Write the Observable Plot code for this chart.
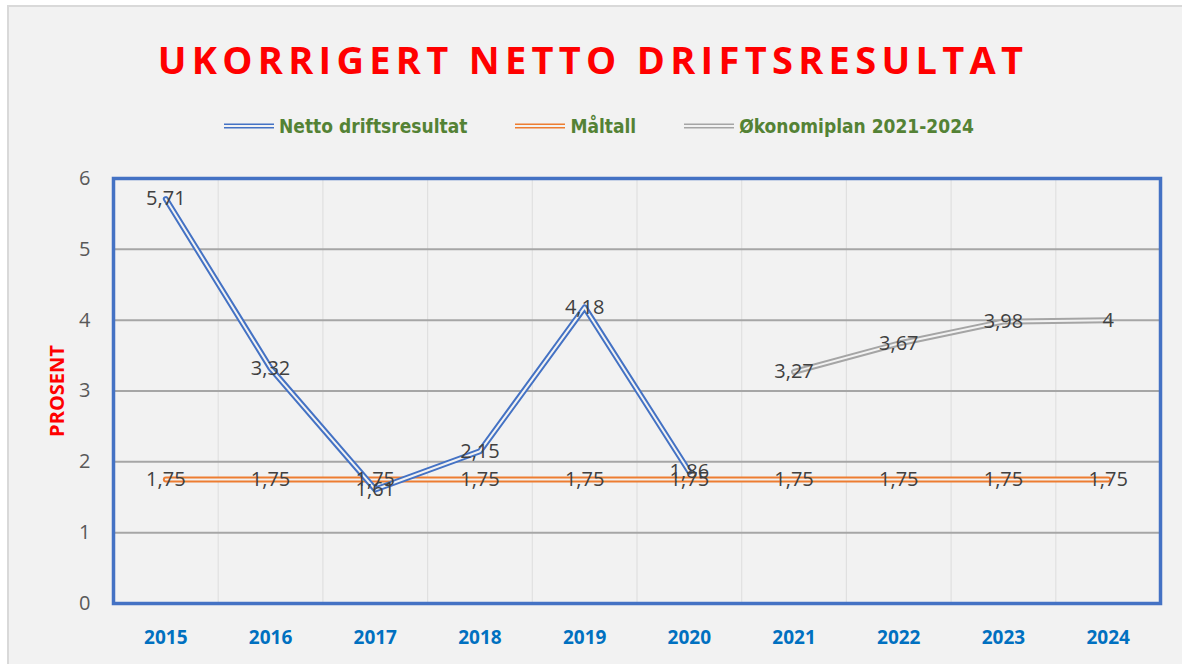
<!DOCTYPE html>
<html>
<head>
<meta charset="utf-8">
<script src="https://cdn.jsdelivr.net/npm/d3@7"></script>
<script src="https://cdn.jsdelivr.net/npm/@observablehq/plot@0.6"></script>
<style>
  html, body { margin: 0; padding: 0; background: #ffffff; overflow: hidden; }
  #wrap { position: absolute; left: 7px; top: 5px; width: 1200px; height: 664px; background: #f2f2f2;
          border-left: 2px solid #d9d9d9; border-top: 2px solid #d9d9d9; box-sizing: border-box; overflow: hidden; }
  #title { position: absolute; left: -6px; top: 26px; width: 1180px; text-align: center; color: #ff0000;
           font-family: "Open Sans", sans-serif; font-weight: 700; font-size: 38px; letter-spacing: 5.3px; }
  #legend { position: absolute; left: 0; top: 108px; width: 1180px; display: flex; justify-content: center; gap: 48px;
            font-family: "Liberation Sans Narrow", "DejaVu Sans Condensed", sans-serif; font-weight: 700; font-size: 19px; color: #548235; }
  #legend .item { display: flex; align-items: center; gap: 5px; }
  #chart { position: absolute; left: -9px; top: 138px; }
</style>
</head>
<body>
<div id="wrap">
  <div id="title">UKORRIGERT NETTO DRIFTSRESULTAT</div>
  <div id="legend"></div>
  <div id="chart"></div>
</div>
<script>
const years = [2015, 2016, 2017, 2018, 2019, 2020, 2021, 2022, 2023, 2024];
const nettoYears = [2015, 2016, 2017, 2018, 2019, 2020];
const nettoValues = [5.71, 3.32, 1.61, 2.15, 4.18, 1.86];
const maltallValues = [1.75, 1.75, 1.75, 1.75, 1.75, 1.75, 1.75, 1.75, 1.75, 1.75];
const planYears = [2021, 2022, 2023, 2024];
const planValues = [3.27, 3.67, 3.98, 4];
const yTicks = [0, 1, 2, 3, 4, 5, 6];
const seriesNames = ["Netto driftsresultat", "Måltall", "Økonomiplan 2021-2024"];
const seriesColors = ["#4472c4", "#ed7d31", "#a5a5a5"];

const netto = nettoYears.map((y, i) => ({year: y, value: nettoValues[i]}));
const maltall = years.map((y, i) => ({year: y, value: maltallValues[i]}));
const plan = planYears.map((y, i) => ({year: y, value: planValues[i]}));
const fmt = v => String(v).replace(".", ",");
const bg = "#f2f2f2";

// legend
const legend = document.getElementById("legend");
seriesNames.forEach((name, i) => {
  const it = document.createElement("div");
  it.className = "item";
  it.innerHTML = `<svg width="50" height="10"><line x1="0" x2="50" y1="5" y2="5" stroke="${seriesColors[i]}" stroke-width="5"/><line x1="0" x2="50" y1="5" y2="5" stroke="${bg}" stroke-width="1.8"/></svg><span>${name}</span>`;
  legend.appendChild(it);
});

function doubleLine(data, color) {
  return [
    Plot.line(data, {x: "year", y: "value", stroke: color, strokeWidth: 6}),
    Plot.line(data, {x: "year", y: "value", stroke: bg, strokeWidth: 2})
  ];
}
const labelStyle = {fill: "#404040", fontSize: 20, fontFamily: "'Open Sans', sans-serif"};

const chart = Plot.plot({
  width: 1182,
  height: 519,
  marginTop: 33,
  marginBottom: 61,
  marginLeft: 113,
  marginRight: 22,
  style: {background: "transparent", fontFamily: "'Open Sans', sans-serif", overflow: "visible"},
  x: {domain: [2014.5, 2024.5], ticks: years, tickFormat: d => String(d)},
  y: {domain: [0, 6], ticks: yTicks, tickFormat: d => String(d)},
  marks: [
    Plot.ruleX(years.map(y => y + 0.5).slice(0, -1), {stroke: "#e0e0e0", strokeWidth: 1.2}),
    Plot.ruleY(yTicks.slice(1, -1), {stroke: "#a6a6a6", strokeWidth: 2}),
    Plot.axisX({ticks: years, tickSize: 0, tickPadding: 27, fontSize: 19, fontWeight: "bold", color: "#0070c0", label: null, tickFormat: d => String(d)}),
    Plot.axisY({ticks: yTicks, tickSize: 0, tickPadding: 23, fontSize: 20, color: "#595959", label: null, tickFormat: d => String(d)}),
    Plot.text(["PROSENT"], {frameAnchor: "left", textAnchor: "middle", rotate: -90, dx: -56, fill: "#ff0000", fontWeight: "bold", fontSize: 20}),
    ...doubleLine(maltall, seriesColors[1]),
    ...doubleLine(netto, seriesColors[0]),
    ...doubleLine(plan, seriesColors[2]),
    Plot.text(maltall, {x: "year", y: "value", text: d => fmt(d.value), ...labelStyle}),
    Plot.text(netto, {x: "year", y: "value", text: d => fmt(d.value), ...labelStyle}),
    Plot.text(plan, {x: "year", y: "value", text: d => fmt(d.value), ...labelStyle}),
    Plot.frame({stroke: "#4472c4", strokeWidth: 3.5})
  ]
});
document.getElementById("chart").appendChild(chart);
</script>
</body>
</html>
